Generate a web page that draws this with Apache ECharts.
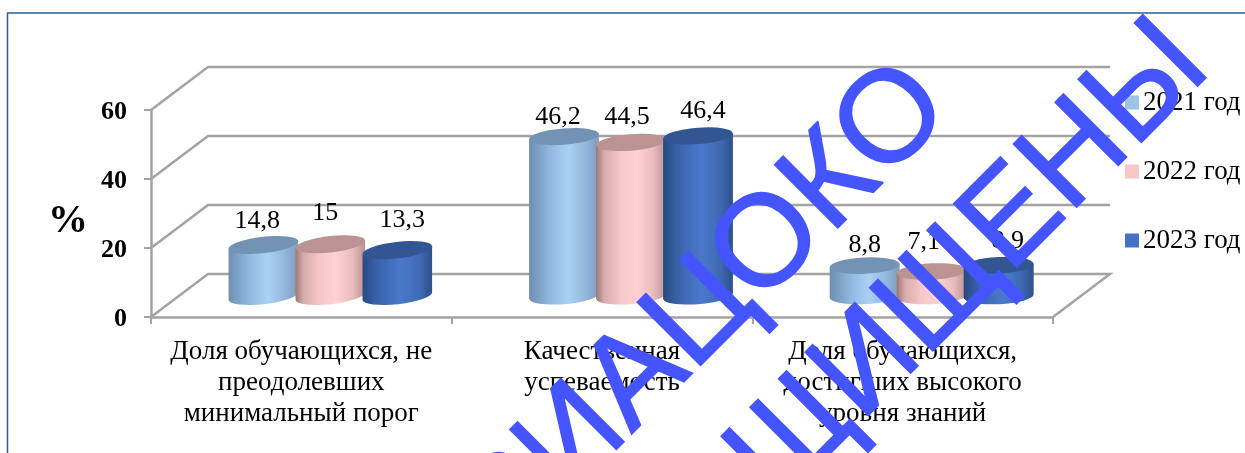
<!DOCTYPE html>
<html>
<head>
<meta charset="utf-8">
<script src="https://cdn.jsdelivr.net/npm/echarts@6/dist/echarts.min.js"></script>
<style>html,body{margin:0;padding:0;background:#fff;overflow:hidden}#c{width:1245px;height:453px}</style>
</head>
<body>
<div id="c"></div>
<script>
var categories = ['Доля обучающихся, не\nпреодолевших\nминимальный порог', 'Качественная\nуспеваемость', 'Доля обучающихся,\nдостигших высокого\nуровня знаний'];
var seriesNames = ['2021 год', '2022 год', '2023 год'];
var values2021 = [14.8, 46.2, 8.8];
var values2022 = [15, 44.5, 7.1];
var values2023 = [13.3, 46.4, 8.9];
var yTicks = [0, 20, 40, 60];

// styling only
var SERIF = '"Liberation Serif","Times New Roman",serif';
var DEPTH_X = 57, DEPTH_Y = 43;          // back wall offset
var MID_X = 29, MID_Y = 21;              // cylinder base sits mid-depth
var CYL_W = 70, CYL_STEP = 67, CYL_B = 8.2;
var TILT = [-6.5, -4.5, -2.7];           // apparent perspective tilt per group
var palette = [
  {legend:'#9dc3e6', top:'#7393b5', stops:[[0,'#6d8eb0'],[0.28,'#8fb6dc'],[0.56,'#a9d1f6'],[0.8,'#93b8dc'],[1,'#7d9cbc']]},
  {legend:'#f8c6c6', top:'#bb9393', stops:[[0,'#9a7676'],[0.12,'#d8acac'],[0.35,'#f7c6c8'],[0.58,'#ffd1d3'],[0.82,'#e8bcbc'],[1,'#b98f8f']]},
  {legend:'#4472c4', top:'#325594', stops:[[0,'#29497f'],[0.2,'#3761a8'],[0.55,'#4a79cd'],[0.82,'#3f69b2'],[1,'#2d4f87']]}
];
// label nudges from the cylinder top, per series, per group
var labelNudge = [
  [[-6,-24],[-6,-19],[0,-20]],
  [[-5,-31],[-4,-25],[-8,-29]],
  [[5,-30],[5,-25],[9,-24]]
];
var WM_STYLE = {font:'130px "Liberation Sans",sans-serif', fill:'#4455ff', stroke:'#4455ff', lineWidth:1.5, textAlign:'right', textVerticalAlign:'bottom'};

function wallsItem(params, api) {
  var cs = params.coordSys;
  var v = api.value(1);
  var y = api.coord([0, v])[1];
  var x0 = cs.x, x1 = cs.x + cs.width;
  var pts = [[x0, y], [x0 + DEPTH_X, y - DEPTH_Y], [x1 + DEPTH_X, y - DEPTH_Y]];
  if (v === 0) pts.push([x1, y]);
  return {type:'polyline', shape:{points:pts}, style:{stroke:'#a3a3a3', lineWidth:2.5, fill:null}, silent:true};
}

function cylinderRender(si) {
  return function (params, api) {
    var cat = api.value(0), val = api.value(1);
    var top = api.coord([cat, val]), base = api.coord([cat, 0]);
    var cx = top[0] + MID_X + (si - 1) * CYL_STEP;
    var yt = top[1] - MID_Y, yb = base[1] - MID_Y;
    var a = CYL_W / 2, b = CYL_B, t = TILT[cat], r = t * Math.PI / 180;
    var dx = a * Math.cos(r), dy = a * Math.sin(r);
    var body = 'M' + (cx - dx) + ' ' + (yt - dy) +
      'L' + (cx - dx) + ' ' + (yb - dy) +
      'A' + a + ' ' + b + ' ' + t + ' 1 0 ' + (cx + dx) + ' ' + (yb + dy) +
      'L' + (cx + dx) + ' ' + (yt + dy) + 'Z';
    var cap = 'M' + (cx - dx) + ' ' + (yt - dy) +
      'A' + a + ' ' + b + ' ' + t + ' 1 1 ' + (cx + dx) + ' ' + (yt + dy) +
      'A' + a + ' ' + b + ' ' + t + ' 1 1 ' + (cx - dx) + ' ' + (yt - dy) + 'Z';
    var n = labelNudge[si][cat];
    var p = palette[si];
    return {type:'group', children:[
      {type:'path', shape:{pathData:body}, style:{fill:{type:'linear',x:0,y:0,x2:1,y2:0,colorStops:p.stops.map(function(s){return {offset:s[0],color:s[1]};})}}},
      {type:'path', shape:{pathData:cap}, style:{fill:p.top}},
      {type:'text', x:cx + n[0], y:yt + n[1], style:{text:String(val).replace('.',','), fill:'#000', font:'26px ' + SERIF, textAlign:'center', textVerticalAlign:'middle'}}
    ]};
  };
}

function cylSeries(si, vals) {
  return {
    type:'custom', name:seriesNames[si], coordinateSystem:'cartesian2d', clip:false,
    itemStyle:{color:palette[si].legend}, renderItem:cylinderRender(si), silent:true,
    encode:{x:0, y:1},
    data:vals.map(function (v, i) { return [i, v]; })
  };
}

var chart = echarts.init(document.getElementById('c'), null, {renderer:'canvas'});
chart.setOption({
  animation:false,
  backgroundColor:'#fff',
  grid:{left:151, right:192, top:110, bottom:136},
  legend:{
    data:seriesNames, orient:'vertical', left:1125, top:89, itemWidth:14, itemHeight:14, itemGap:42, padding:0, selectedMode:false,
    icon:'rect', itemStyle:{borderWidth:0},
    textStyle:{fontFamily:SERIF, fontSize:27, color:'#000', padding:[0,0,0,-1]}
  },
  xAxis:{
    type:'category', data:categories, boundaryGap:true,
    axisLine:{lineStyle:{color:'#a3a3a3', width:2.5}},
    axisTick:{show:true, length:7, lineStyle:{color:'#a3a3a3', width:2}},
    axisLabel:{interval:0, fontFamily:SERIF, fontSize:27, color:'#000', lineHeight:31, margin:19}
  },
  yAxis:{
    type:'value', min:0, max:60, interval:20,
    name:'%', nameLocation:'middle', nameRotate:0, nameGap:63,
    nameTextStyle:{fontFamily:SERIF, fontWeight:'bold', fontSize:40, color:'#000', verticalAlign:'top', lineHeight:16},
    axisLine:{show:true, lineStyle:{color:'#a3a3a3', width:2.5}},
    axisTick:{show:true, length:7, lineStyle:{color:'#a3a3a3', width:2}},
    splitLine:{show:false},
    axisLabel:{fontFamily:SERIF, fontWeight:'bold', fontSize:26, color:'#000', margin:24, verticalAlign:'top', lineHeight:5}
  },
  series:[
    {type:'custom', name:'walls', coordinateSystem:'cartesian2d', clip:false, silent:true, z:1,
     renderItem:wallsItem, encode:{y:1}, data:yTicks.map(function(v){return [0, v];})},
    cylSeries(0, values2021),
    cylSeries(1, values2022),
    cylSeries(2, values2023)
  ],
  graphic:[
    {type:'rect', z:0, silent:true, shape:{x:7.5, y:13, width:1400, height:600}, style:{fill:null, stroke:'#2e5c9a', lineWidth:1.5}},
    {type:'text', z:100, silent:true, x:975, y:132, rotation:Math.PI/4, style:Object.assign({text:'РИАЦОКО'}, WM_STYLE)},
    {type:'text', z:100, silent:true, x:1234, y:91, scaleX:0.975, rotation:Math.PI/4, style:Object.assign({text:'ЗАЩИЩЕНЫ'}, WM_STYLE)}
  ]
});
</script>
</body>
</html>
